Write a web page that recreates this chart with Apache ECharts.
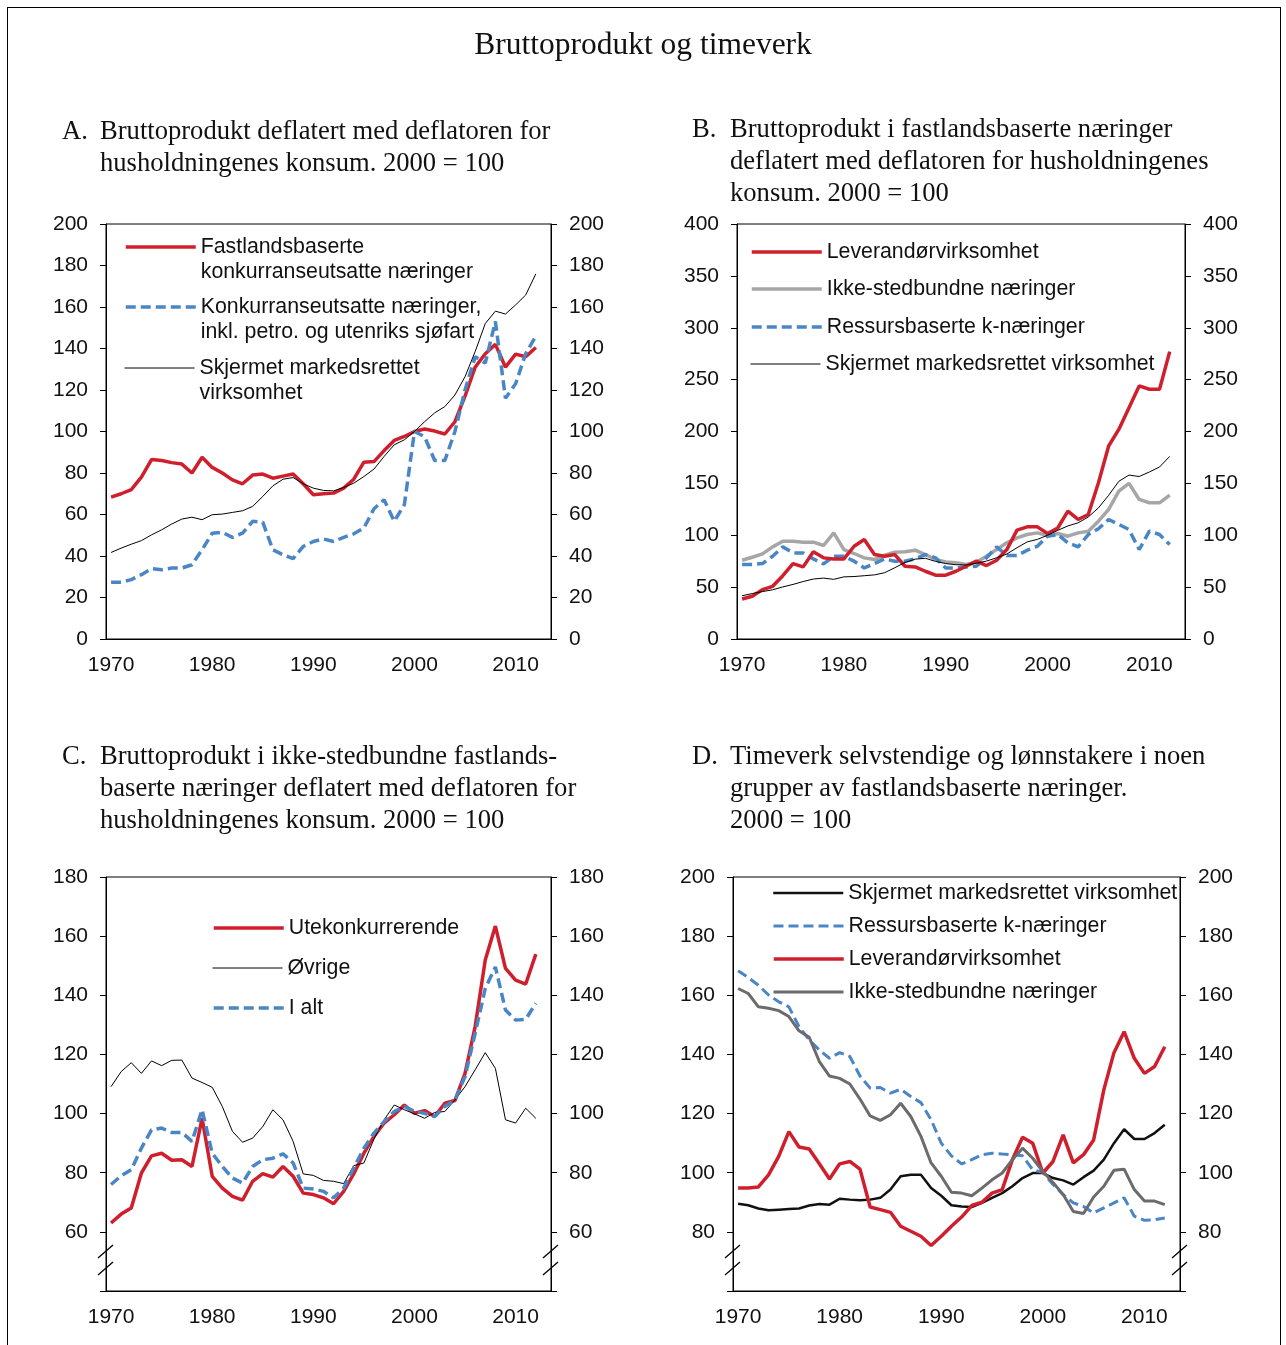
<!DOCTYPE html>
<html>
<head>
<meta charset="utf-8"/>
<script src="https://cdn.jsdelivr.net/npm/echarts@6/dist/echarts.min.js"></script>
<style>
body{margin:0;width:1286px;height:1345px;overflow:hidden;background:#fff;}
#frame{position:absolute;left:7px;top:7px;width:1272px;height:1400px;border:1.5px solid #000;}
.panel{position:absolute;left:0;top:0;width:1286px;height:1345px;}
</style>
</head>
<body>
<div id="frame"></div>
<div id="chartA" class="panel"></div>
<div id="chartB" class="panel"></div>
<div id="chartC" class="panel"></div>
<div id="chartD" class="panel"></div>
<script type="text/javascript">
// kategorier (aksen har ett tomt år til slutt)
var years = ['1970','1971','1972','1973','1974','1975','1976','1977','1978','1979',
  '1980','1981','1982','1983','1984','1985','1986','1987','1988','1989',
  '1990','1991','1992','1993','1994','1995','1996','1997','1998','1999',
  '2000','2001','2002','2003','2004','2005','2006','2007','2008','2009',
  '2010','2011','2012','2013'];

// A
var aFastland = [68.4,70,72,78,86.5,86,85,84.3,80,87.6, 82.7,80,76.7,74.8,79,79.5,77.5,78.5,79.5,74.8,
  69.5,70,70.3,72.7,77,85.2,85.5,90.8,95.7,97.6, 100,101.2,100.2,98.8,104.7,117,131,137.5,142,131,
  137.3,136,140.5];
var aInklPetro = [27.3,27.4,28.6,31,33.9,33.4,34.2,34.2,35.8,43, 51,51.4,49,51,56.7,56.3,43,40.6,38.7,44.6,
  47,48.2,47,49,50.7,53.5,62.8,67.1,56.7,64.7, 100,97.5,86,86,100,120,136,133,153,116,
  123,137.5,146];
var skjermetBp = [41.7,43.8,45.7,47.4,50.2,52.6,55.4,57.8,58.7,57.5, 59.9,60.2,61,61.8,63.9,68.7,73.8,77,77.8,74.8,
  72.7,71.6,71.4,73,75.1,78.3,81.9,88,93.6,96, 100,104.7,109,112,117.6,126.4,138.5,152,158,156.6,
  161,165.8,176];

// B
var bLeverandor = [38.6,41.2,47.6,50.8,61,72.7,69.5,84,78.2,77.2, 77.2,89.4,95.9,81.4,79.8,81.4,70.1,69.5,65.3,61.5,
  61.5,65.3,70.1,75,70.8,75.9,86.2,104.9,108.1,108.1, 101.7,107,123.2,115.2,120,150.6,186,202,223,243.9,
  240.7,240.7,277];
var bIkkeSted = [75.9,78.8,82,88.8,94.3,94.3,93.3,93.3,90.1,102.3, 86.2,82.4,78.2,76.6,80.8,83.7,84,85.6,81.4,76.6,
  74.3,73.4,71.8,74,79.8,86.2,92.7,97.5,100.7,102.3, 99.7,101.7,99.1,102.3,103.9,113.6,124.8,142.5,150,134.5,
  131.3,131.3,138.7];
var bRessurs = [71.8,71.8,72.7,79.8,88.8,83,83,77.2,72.4,79.8, 79.8,75,68.5,72.7,77.2,75,75,77.2,81.4,78.2,
  68.5,68.5,69.5,70.1,78.2,88.8,80.4,80.4,85.6,89.4, 99.1,100.7,92.7,88.8,100.7,106.2,115.2,110.4,105.5,86.2,
  103.9,100.7,91];

// C
var cUte = [63,66,68.1,79.9,85.7,86.6,84.2,84.4,82.1,98.4, 78.8,74.8,72,70.7,77.1,79.7,78.5,82.1,78.8,73.1,
  72.6,71.5,69.5,73.7,79.7,86.6,92.3,96.8,99.6,102.9, 100.1,101,99,103.5,104.4,113.6,129.4,151.9,163.4,149.1,
  145.1,143.8,153.9];
var cOvrige = [109.1,114.2,117.2,113.6,117.8,116.2,118,118.1,112,110.5, 108.9,102.4,94,90.3,91.7,95.6,101.3,97.9,90.6,79.6,
  79.1,77.4,77.1,76.3,82.4,83.3,91.4,97.9,102.9,101.3, 99.9,98.4,100.4,100.7,104.6,109.1,114.8,120.6,115.3,97.9,
  96.8,101.8,98.4];
var cIalt = [76,79,81,88.3,94.5,95.1,93.6,93.6,90.6,101.3, 86.6,82.1,78.2,76.5,82.1,84.4,84.9,86.4,83.3,74.8,
  74.5,73.7,71.5,74.8,81.6,88.3,93.4,97.3,100.7,102.4, 100.7,100.1,99,102.4,104.6,112.5,127.1,142.3,149.6,135,
  131.6,131.9,137.3];

// D timeverk
var dSkjermet = [89.5,89,87.9,87.3,87.5,87.7,87.9,88.9,89.4,89.2, 91.2,90.9,90.7,90.9,91.5,94.3,98.8,99.3,99.3,94.8,
  92.2,89,88.6,88.4,89.8,91.5,93.1,95.4,98.2,99.9, 99.9,98.2,97.4,96,98.5,100.7,104.4,110,114.7,111.4,
  111.4,113.4,116.2];
var dRessurs = [168.3,166,163.4,160.1,157.8,156.1,149.4,144.9,141.5,138.7, 140.6,139.3,132.7,128.6,128.8,126.9,128.2,125.8,123.7,117.9,
  110,105.7,103,104.4,106.1,106.6,106.3,106.1,105.7,101, 100.1,96,92.6,89.8,88.6,86.4,88.1,89.8,91.5,85.3,
  83.9,84.1,84.7];
var dLeverandor = [94.8,94.8,95.2,99.3,105.5,113.9,108.7,108,103,97.9, 103,103.8,101.2,88.4,87.5,86.6,81.9,80.2,78.5,75.4,
  78.5,81.9,85,88.9,90,93.1,94.3,104.4,112,110, 99.9,103.8,112.8,103.3,106.1,111.1,128,140.6,147.7,138.7,
  133.6,135.9,142.6];
var dIkkeSted = [162.3,160.6,156.1,155.6,154.8,152.8,148,145.8,137.6,132.7, 131.9,130,124.9,119.2,117.7,119.6,123.5,119,112.3,103.3,
  98.8,93.4,93.1,92.2,94.8,97.6,99.9,104.4,108.3,104.9, 100.4,96.7,92.6,86.9,86.2,91.8,95.4,100.8,101.2,94.3,
  90.4,90.4,89.2];

var SANS = 'Liberation Sans, Arial, sans-serif';
var SERIF = 'Liberation Serif, Times New Roman, serif';
var RED = '#cf1f2c', BLUE = '#4a86c6', LGREY = '#a6a6a6', DGREY = '#6b6b6b';

function titleItems(letter, text, x, top) {
  var st = {fontFamily: SERIF, fontSize: 26.6, fontWeight: 'normal', lineHeight: 32, color: '#111'};
  return [
    {text: letter, left: x, top: top, padding: 0, textStyle: st},
    {text: text, left: x + 38, top: top, padding: 0, textStyle: st}
  ];
}

function yAxes(min, max, step, firstLabel) {
  var base = {
    type: 'value', min: min, max: max, interval: step,
    axisLine: {show: true, onZero: false, lineStyle: {color: '#000', width: 1}},
    axisTick: {show: true, length: 6, lineStyle: {color: '#000'}},
    splitLine: {show: false},
    axisLabel: {color: '#111', fontFamily: SANS, fontSize: 21, margin: 18,
      formatter: function (v) { return v < firstLabel ? '' : v; }}
  };
  var l = echarts.util.merge({position: 'left'}, base, true);
  var r = echarts.util.merge({position: 'right'}, base, true);
  return [l, r];
}

function xAxis() {
  return {
    type: 'category', data: years, boundaryGap: true,
    axisLine: {lineStyle: {color: '#000', width: 1}},
    axisTick: {interval: 0, length: 6, lineStyle: {color: '#000'}},
    axisLabel: {interval: 9, margin: 16, color: '#111', fontFamily: SANS, fontSize: 21}
  };
}

// to-linjers tekst: en tom linje først, så ligger ikonet ved første tekstlinje
function legends(items, left, tops, w) {
  return items.map(function (it, i) {
    return {
      data: [it.name],
      left: left, top: tops[i], padding: 0, itemWidth: w, itemHeight: 14,
      selectedMode: false,
      formatter: function (n) { return it.label ? ' \n' + it.label : n; },
      itemStyle: {color: 'rgba(0,0,0,0)', borderColor: 'rgba(0,0,0,0)', borderWidth: 0},
      lineStyle: {width: 'inherit'},
      textStyle: {fontFamily: SANS, fontSize: 21.3, color: '#111', lineHeight: 25}
    };
  });
}

function line(name, data, color, width, type, z) {
  return {
    name: name, type: 'line', data: data, symbol: 'none', showSymbol: false,
    lineStyle: {color: color, width: width, type: type || 'solid', cap: 'butt'},
    itemStyle: {color: color}, z: z || 2, animation: false
  };
}

function breakMarks(left, right, bottom) {
  var out = [];
  [left, right].forEach(function (x) {
    [39.5, 22.5].forEach(function (dy) {
      var y = bottom - dy;
      out.push({type: 'line', shape: {x1: x - 8, y1: y + 6.5, x2: x + 7, y2: y - 6.5},
        style: {stroke: '#000', lineWidth: 1.3}});
    });
  });
  return out;
}

function gridBox(left, top, width, height) {
  return {left: left, top: top, width: width, height: height, show: true,
    borderColor: '#000', borderWidth: 1, backgroundColor: 'transparent'};
}

var dash = [10, 5];

// Panel A
var chartA = echarts.init(document.getElementById('chartA'));
chartA.setOption({
  animation: false,
  title: [{text: 'Bruttoprodukt og timeverk', left: 'center', top: 30, padding: 0,
    textStyle: {fontFamily: SERIF, fontSize: 31.5, fontWeight: 'normal', color: '#111'}}]
    .concat(titleItems('A.', 'Bruttoprodukt deflatert med deflatoren for\nhusholdningenes konsum. 2000 = 100', 62, 116)),
  grid: gridBox(106, 224, 445, 415),
  xAxis: xAxis(),
  yAxis: yAxes(0, 200, 20, 0),
  legend: legends([
    {name: 'Fastlandsbaserte konkurranseutsatte næringer', label: 'Fastlandsbaserte\nkonkurranseutsatte næringer'},
    {name: 'Konkurranseutsatte næringer, inkl. petro. og utenriks sjøfart', label: 'Konkurranseutsatte næringer,\ninkl. petro. og utenriks sjøfart'},
    {name: 'Skjermet markedsrettet virksomhet', label: 'Skjermet markedsrettet\nvirksomhet'}
  ], 124, [209.5, 269.5, 330.5], 70),
  series: [
    line('Fastlandsbaserte konkurranseutsatte næringer', aFastland, RED, 3.5),
    line('Konkurranseutsatte næringer, inkl. petro. og utenriks sjøfart', aInklPetro, BLUE, 3.5, dash),
    line('Skjermet markedsrettet virksomhet', skjermetBp, '#000', 1)
  ]
});

// Panel B
var chartB = echarts.init(document.getElementById('chartB'));
chartB.setOption({
  animation: false,
  title: titleItems('B.', 'Bruttoprodukt i fastlandsbaserte næringer\ndeflatert med deflatoren for husholdningenes\nkonsum. 2000 = 100', 692, 114),
  grid: gridBox(737, 224, 448, 415),
  xAxis: xAxis(),
  yAxis: yAxes(0, 400, 50, 0),
  legend: legends([
    {name: 'Leverandørvirksomhet'},
    {name: 'Ikke-stedbundne næringer'},
    {name: 'Ressursbaserte k-næringer'},
    {name: 'Skjermet markedsrettet virksomhet'}
  ], 750, [239.5, 276.5, 314.5, 351.5], 70),
  series: [
    line('Leverandørvirksomhet', bLeverandor, RED, 3.5, null, 4),
    line('Ikke-stedbundne næringer', bIkkeSted, LGREY, 3.5),
    line('Ressursbaserte k-næringer', bRessurs, BLUE, 3.5, dash, 3),
    line('Skjermet markedsrettet virksomhet', skjermetBp, '#000', 1, null, 5)
  ]
});

// Panel C
var chartC = echarts.init(document.getElementById('chartC'));
chartC.setOption({
  animation: false,
  title: titleItems('C.', 'Bruttoprodukt i ikke-stedbundne fastlands-\nbaserte næringer deflatert med deflatoren for\nhusholdningenes konsum. 2000 = 100', 62, 741),
  grid: gridBox(106, 877, 445, 414),
  xAxis: xAxis(),
  yAxis: yAxes(40, 180, 20, 60),
  legend: legends([
    {name: 'Utekonkurrerende'},
    {name: 'Øvrige'},
    {name: 'I alt'}
  ], 212, [915.5, 955.5, 995.5], 70),
  graphic: breakMarks(106, 551, 1291),
  series: [
    line('Utekonkurrerende', cUte, RED, 3.5),
    line('Øvrige', cOvrige, '#000', 1),
    line('I alt', cIalt, BLUE, 3.5, dash, 3)
  ]
});

// Panel D
var chartD = echarts.init(document.getElementById('chartD'));
chartD.setOption({
  animation: false,
  title: titleItems('D.', 'Timeverk selvstendige og lønnstakere i noen\ngrupper av fastlandsbaserte næringer.\n2000 = 100', 692, 741),
  grid: gridBox(733, 877, 447, 414),
  xAxis: xAxis(),
  yAxis: yAxes(60, 200, 20, 80),
  legend: legends([
    {name: 'Skjermet markedsrettet virksomhet'},
    {name: 'Ressursbaserte k-næringer'},
    {name: 'Leverandørvirksomhet'},
    {name: 'Ikke-stedbundne næringer'}
  ], 772, [880.5, 913.5, 946.5, 979.5], 70),
  graphic: breakMarks(733, 1180, 1291),
  series: [
    line('Skjermet markedsrettet virksomhet', dSkjermet, '#111', 2.5),
    line('Ressursbaserte k-næringer', dRessurs, BLUE, 3, dash),
    line('Leverandørvirksomhet', dLeverandor, RED, 3.5),
    line('Ikke-stedbundne næringer', dIkkeSted, DGREY, 3)
  ]
});
</script>
</body>
</html>
